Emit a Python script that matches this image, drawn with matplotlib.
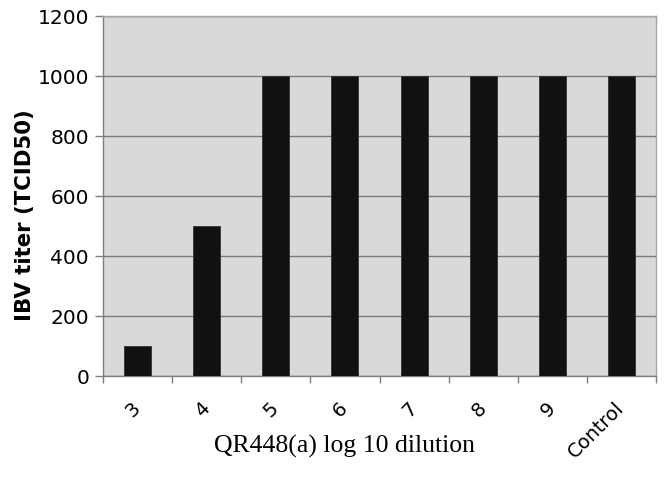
import numpy as np
import matplotlib.pyplot as plt

# dilution categories and IBV titer
dilutions = ["3", "4", "5", "6", "7", "8", "9", "Control"]
titer = [100, 500, 1000, 1000, 1000, 1000, 1000, 1000]
y_ticks = [0, 200, 400, 600, 800, 1000, 1200]

fig = plt.figure(figsize=(6.64, 4.79), dpi=100)
ax = fig.add_axes([103 / 664, 1 - 376 / 479, (656 - 103) / 664, (376 - 16) / 479])

x = np.arange(len(dilutions))
ax.set_facecolor("#d9d9d9")
ax.set_axisbelow(True)
ax.yaxis.grid(True, color="#7a7a7a", linewidth=1.0)
ax.bar(x, titer, width=0.39, color="#111111", edgecolor="#333333", linewidth=0.6, zorder=3)

ax.set_xlim(-0.5, len(dilutions) - 0.5)
ax.set_ylim(0, 1200)
ax.set_yticks(y_ticks)
ax.tick_params(axis="y", labelsize=14.5, length=6, width=1, color="#7f7f7f", pad=4)

# labels at category centres, tick marks at category boundaries
ax.set_xticks(x)
ax.set_xticklabels(dilutions, rotation=45, ha="right", va="center", rotation_mode="anchor")
ax.tick_params(axis="x", which="major", length=0, labelsize=14, pad=21)
ax.set_xticks(np.arange(len(dilutions) + 1) - 0.5, minor=True)
ax.tick_params(axis="x", which="minor", length=5, width=1, color="#7f7f7f")

for side in ["top", "right"]:
    ax.spines[side].set_color("#a6a6a6")
for side in ["left", "bottom"]:
    ax.spines[side].set_color("#7f7f7f")
for s in ax.spines.values():
    s.set_linewidth(1.0)

ax.set_ylabel("IBV titer (TCID50)", fontsize=15.3, fontweight="bold")
ax.yaxis.set_label_coords(-(103 - 35) / 553, (376 - 215) / 360)
fig.text(345 / 664, 1 - 446 / 479, "QR448(a) log 10 dilution", family="Liberation Serif",
         fontsize=18.5, ha="center", va="center")

fig.savefig("out.png", dpi=100)
